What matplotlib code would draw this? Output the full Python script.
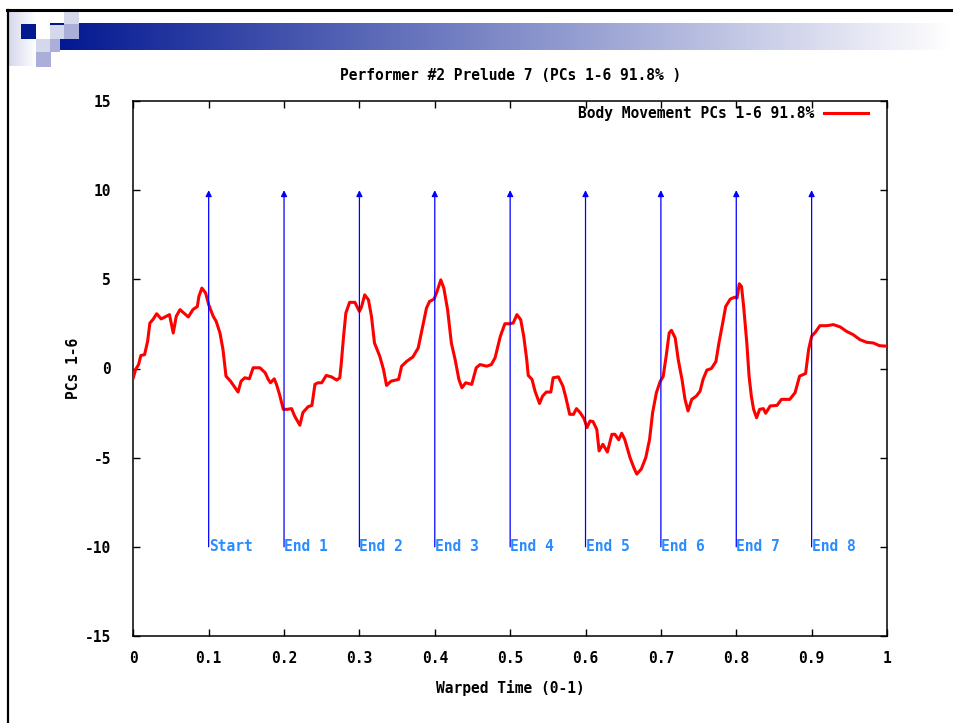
import numpy as np
import matplotlib
matplotlib.use('Agg')
import matplotlib.pyplot as plt
from matplotlib.patches import Rectangle

plt.rcParams['axes.unicode_minus'] = False

# curve
t = [0.000, 0.003, 0.007, 0.010, 0.015, 0.019, 0.022, 0.026, 0.031, 0.037,
     0.044, 0.048, 0.053, 0.057, 0.062, 0.066, 0.073, 0.079, 0.085, 0.087,
     0.091, 0.096, 0.100, 0.106, 0.110, 0.115, 0.119, 0.123, 0.129, 0.135,
     0.139, 0.143, 0.148, 0.154, 0.159, 0.168, 0.175, 0.179, 0.182, 0.187,
     0.190, 0.194, 0.199, 0.204, 0.210, 0.214, 0.221, 0.225, 0.232, 0.237,
     0.241, 0.245, 0.250, 0.256, 0.263, 0.270, 0.274, 0.276, 0.279, 0.282,
     0.287, 0.294, 0.300, 0.303, 0.307, 0.312, 0.316, 0.320, 0.327, 0.332,
     0.336, 0.342, 0.352, 0.356, 0.363, 0.371, 0.378, 0.383, 0.389, 0.393,
     0.399, 0.403, 0.408, 0.412, 0.417, 0.422, 0.427, 0.432, 0.436, 0.441,
     0.449, 0.455, 0.460, 0.469, 0.475, 0.480, 0.487, 0.493, 0.499, 0.504,
     0.509, 0.514, 0.518, 0.522, 0.524, 0.529, 0.533, 0.539, 0.543, 0.548,
     0.554, 0.557, 0.564, 0.570, 0.574, 0.579, 0.584, 0.588, 0.593, 0.598,
     0.602, 0.606, 0.610, 0.615, 0.618, 0.623, 0.629, 0.635, 0.639, 0.644,
     0.648, 0.652, 0.659, 0.664, 0.668, 0.674, 0.680, 0.685, 0.689, 0.694,
     0.699, 0.703, 0.707, 0.711, 0.714, 0.719, 0.723, 0.728, 0.732, 0.736,
     0.741, 0.747, 0.752, 0.756, 0.761, 0.767, 0.773, 0.777, 0.782, 0.786,
     0.792, 0.798, 0.801, 0.804, 0.807, 0.810, 0.814, 0.817, 0.820, 0.823,
     0.827, 0.831, 0.836, 0.839, 0.845, 0.854, 0.860, 0.871, 0.878, 0.884,
     0.892, 0.896, 0.900, 0.905, 0.911, 0.920, 0.929, 0.938, 0.946, 0.955,
     0.964, 0.973, 0.982, 0.990, 1.000]
pcs = [-0.52, -0.06, 0.22, 0.73, 0.78, 1.53, 2.55, 2.74, 3.07, 2.78,
       2.93, 3.02, 1.99, 2.93, 3.30, 3.15, 2.89, 3.30, 3.48, 4.04,
       4.51, 4.23, 3.58, 2.93, 2.64, 1.99, 1.06, -0.43, -0.71, -1.08,
       -1.32, -0.71, -0.52, -0.58, 0.04, 0.04, -0.24, -0.61, -0.80, -0.58,
       -0.89, -1.45, -2.29, -2.29, -2.25, -2.66, -3.18, -2.47, -2.14, -2.07,
       -0.89, -0.80, -0.80, -0.39, -0.47, -0.65, -0.52, 0.32, 1.81, 3.11,
       3.71, 3.71, 3.20, 3.48, 4.13, 3.85, 2.93, 1.43, 0.69, -0.06,
       -0.95, -0.71, -0.61, 0.13, 0.41, 0.65, 1.15, 2.18, 3.39, 3.76,
       3.89, 4.32, 4.97, 4.51, 3.30, 1.43, 0.50, -0.61, -1.08, -0.80,
       -0.89, 0.04, 0.22, 0.13, 0.22, 0.60, 1.81, 2.51, 2.51, 2.55,
       3.02, 2.74, 1.81, 0.50, -0.39, -0.61, -1.27, -1.96, -1.55, -1.32,
       -1.32, -0.52, -0.47, -0.99, -1.64, -2.57, -2.57, -2.25, -2.48, -2.81,
       -3.31, -2.94, -2.98, -3.42, -4.62, -4.25, -4.68, -3.69, -3.69, -4.00,
       -3.63, -3.97, -4.99, -5.55, -5.92, -5.64, -4.99, -3.97, -2.48, -1.36,
       -0.73, -0.45, 0.69, 1.99, 2.14, 1.71, 0.50, -0.61, -1.73, -2.38,
       -1.73, -1.55, -1.27, -0.60, -0.09, 0.00, 0.39, 1.43, 2.55, 3.48,
       3.89, 4.00, 3.95, 4.75, 4.60, 3.39, 1.43, -0.43, -1.55, -2.29,
       -2.76, -2.29, -2.25, -2.51, -2.10, -2.07, -1.73, -1.73, -1.36, -0.43,
       -0.28, 1.06, 1.81, 2.04, 2.40, 2.40, 2.46, 2.33, 2.09, 1.90,
       1.62, 1.47, 1.43, 1.28, 1.25]

marks = [0.1, 0.2, 0.3, 0.4, 0.5, 0.6, 0.7, 0.8, 0.9]
mark_labels = ['Start', 'End 1', 'End 2', 'End 3', 'End 4',
               'End 5', 'End 6', 'End 7', 'End 8']

W, H = 954, 723
FONT = dict(family='DejaVu Sans Mono', weight='bold', size=10.5)

fig = plt.figure(figsize=(W / 100, H / 100), dpi=100)
fig.patch.set_facecolor('white')

# slide decoration, in pixel coordinates
bg = fig.add_axes([0, 0, 1, 1])
bg.set_xlim(0, W)
bg.set_ylim(H, 0)
bg.axis('off')

dark = np.array([0, 22, 144]) / 255.
white = np.array([1., 1., 1.])
grad = np.linspace(0, 1, 256)
bar = dark[None, :] * (1 - grad[:, None]) + white[None, :] * grad[:, None]
bg.imshow(bar[None, :, :], extent=(50, W, 50, 23), aspect='auto', zorder=1)
side = np.array([213, 216, 236]) / 255.
soft = side[None, :] * (1 - grad[:, None]) + white[None, :] * grad[:, None]
bg.imshow(soft[None, :, :], extent=(9, 36, 66, 11), aspect='auto', zorder=1)

light = '#d5d8ea'
mid = '#aaaed8'
squares = [
    (21, 24, 15, 15, '#001890'),
    (36, 24, 14, 15, 'white'),
    (64, 11, 15, 13, light),
    (50, 25, 14, 14, light),
    (64, 24, 15, 15, mid),
    (36, 39, 14, 13, light),
    (50, 39, 10, 13, mid),
    (36, 52, 15, 15, mid),
]
for sx, sy, w, h, c in squares:
    bg.add_patch(Rectangle((sx, sy), w, h, color=c, lw=0, zorder=2))
bg.plot([7, W], [10, 10], color='black', lw=2.2, zorder=3)
bg.plot([8, 8], [10, H], color='black', lw=1.6, zorder=3)

# the chart
x0, x1 = 133.3, 887.0
y0, y1 = 101.0, 636.0
ax = fig.add_axes([x0 / W, 1 - y1 / H, (x1 - x0) / W, (y1 - y0) / H])
ax.set_facecolor('none')

ax.plot(t, pcs, color='#ff0000', lw=2.2, zorder=3,
        label='Body Movement PCs 1-6 91.8%')

for m, lab in zip(marks, mark_labels):
    ax.annotate('', xy=(m, 10), xytext=(m, -10),
                arrowprops=dict(arrowstyle='-|>', color='#0000ff', lw=0.9,
                                mutation_scale=9, shrinkA=0, shrinkB=0))
    ax.text(m, -10, lab, color='#2a8cff', ha='left', va='center',
            fontdict=FONT)

ax.set_xlim(0, 1)
ax.set_ylim(-15, 15)
ax.set_xticks(np.arange(0, 1.01, 0.1))
ax.set_xticklabels(['0', '0.1', '0.2', '0.3', '0.4', '0.5',
                    '0.6', '0.7', '0.8', '0.9', '1'])
ax.set_yticks([-15, -10, -5, 0, 5, 10, 15])
ax.tick_params(direction='in', length=5, width=1, top=True, right=True,
               color='black')
ax.tick_params(axis='x', pad=11)
ax.tick_params(axis='y', pad=16)
for lab in ax.get_xticklabels() + ax.get_yticklabels():
    lab.set_fontfamily(FONT['family'])
    lab.set_fontweight('bold')
    lab.set_fontsize(FONT['size'])
for sp in ax.spines.values():
    sp.set_linewidth(1.1)
    sp.set_color('black')

ax.set_xlabel('Warped Time (0-1)', fontdict=FONT, labelpad=10)
ax.set_ylabel('PCs 1-6', fontdict=FONT, labelpad=3)
fig.text((x0 + x1) / 2 / W, 1 - 75 / H, 'Performer #2 Prelude 7 (PCs 1-6 91.8% )',
         ha='center', va='center', fontdict=FONT)

leg = ax.legend(loc='upper right', bbox_to_anchor=(0.975, 0.99),
                frameon=False, markerfirst=False, handlelength=3.0,
                handletextpad=0.7, borderaxespad=0, borderpad=0,
                prop=dict(family=FONT['family'], weight='bold',
                          size=FONT['size']))

fig.savefig('out.png', dpi=100)
